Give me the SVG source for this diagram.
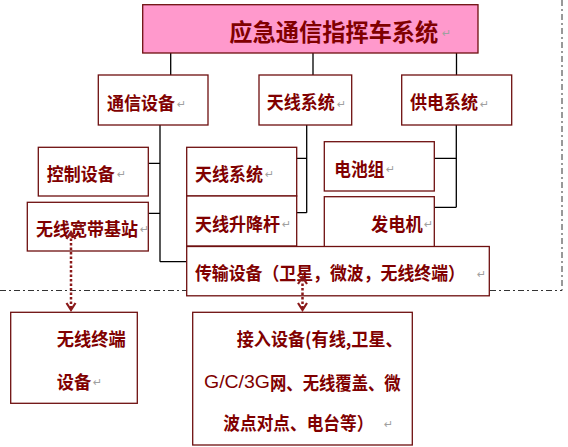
<svg xmlns="http://www.w3.org/2000/svg" width="568" height="447" viewBox="0 0 568 447">
<style>
.box{fill:#fff;stroke:#6e0f0f;stroke-width:1.3}
.t{font-family:"Noto Sans CJK SC","Noto Sans CJK JP",sans-serif;font-weight:bold;font-size:18px;fill:#800000;dominant-baseline:central}
.pm{font-family:"DejaVu Sans",sans-serif;font-size:11px;fill:#a0a0a0;dominant-baseline:central}
.c{stroke:#000;stroke-width:1.3;fill:none}
.dash{stroke:#333;stroke-width:1;stroke-dasharray:6 3 2 3;fill:none}
.dot{stroke:#8b1a1a;stroke-width:2.5;stroke-dasharray:2.5 2;fill:none}
.ah{stroke:#8b1a1a;stroke-width:2.2;fill:none}
</style>
<rect width="568" height="447" fill="#fff"/>
<g id="frame">
<path class="dash" d="M0 290.5 H562 M562 0 V290.5"/>
</g>
<g id="connectors">
<path class="c" d="M170.7 42 V75 M313 42 V75 M456.5 42 V75"/>
<path class="c" d="M160 103 V261.7 M148.3 163.3 H160 M148.3 213.3 H160 M160 261.7 H186.7"/>
<path class="c" d="M306.7 103 V212.7 M296.7 158.3 H306.7 M296.7 212.7 H306.7"/>
<path class="c" d="M456.3 103 V207.3 M434.3 158.3 H456.3 M434.3 207.3 H456.3"/>
</g>
<g id="root">
<rect x="142.7" y="4.7" width="335.3" height="48.3" fill="#ff99cc" stroke="#6e0f0f" stroke-width="1.3"/>
<text class="t" x="229.3" y="30.5" style="font-size:24px" textLength="209" lengthAdjust="spacingAndGlyphs">应急通信指挥车系统</text>
<text class="pm" x="442" y="33">↵</text>
</g>
<g id="comm">
<rect class="box" x="98.3" y="75" width="109.7" height="50"/>
<text class="t" x="107" y="101.5" textLength="68" lengthAdjust="spacingAndGlyphs">通信设备</text>
<text class="pm" x="177" y="104">↵</text>
</g>
<g id="antenna">
<rect class="box" x="259" y="75" width="92.7" height="50"/>
<text class="t" x="266.7" y="101" textLength="68" lengthAdjust="spacingAndGlyphs">天线系统</text>
<text class="pm" x="337" y="104">↵</text>
</g>
<g id="power">
<rect class="box" x="401.7" y="75" width="110" height="50"/>
<text class="t" x="410" y="101" textLength="68" lengthAdjust="spacingAndGlyphs">供电系统</text>
<text class="pm" x="480" y="104">↵</text>
</g>
<g id="control">
<rect class="box" x="38.3" y="147.3" width="110" height="48.7"/>
<text class="t" x="46.7" y="172.5" textLength="68" lengthAdjust="spacingAndGlyphs">控制设备</text>
<text class="pm" x="117" y="174">↵</text>
</g>
<g id="bs">
<rect class="box" x="27.3" y="202.3" width="121" height="48.7"/>
<text class="t" x="36" y="227.5" textLength="102" lengthAdjust="spacingAndGlyphs">无线宽带基站</text>
<text class="pm" x="140" y="229">↵</text>
</g>
<g id="antsys">
<rect class="box" x="186.7" y="147.3" width="110" height="48.7"/>
<text class="t" x="195" y="172.5" textLength="68" lengthAdjust="spacingAndGlyphs">天线系统</text>
<text class="pm" x="265" y="174">↵</text>
</g>
<g id="mast">
<rect class="box" x="186.7" y="196" width="110" height="50"/>
<text class="t" x="195" y="222.5" textLength="85" lengthAdjust="spacingAndGlyphs">天线升降杆</text>
<text class="pm" x="282" y="224">↵</text>
</g>
<g id="battery">
<rect class="box" x="324.3" y="141.7" width="110" height="49.3"/>
<text class="t" x="334.3" y="167.5" textLength="50" lengthAdjust="spacingAndGlyphs">电池组</text>
<text class="pm" x="386" y="169">↵</text>
</g>
<g id="gen">
<rect class="box" x="324.3" y="196.7" width="110" height="50"/>
<text class="t" x="371" y="222.5" textLength="51.7" lengthAdjust="spacingAndGlyphs">发电机</text>
<text class="pm" x="424" y="224">↵</text>
</g>
<g id="trans">
<rect class="box" x="186.7" y="246.5" width="302.6" height="49.3"/>
<text class="t" x="195" y="271.5" textLength="270" lengthAdjust="spacingAndGlyphs">传输设备（卫星，微波，无线终端）</text>
<text class="pm" x="477" y="274">↵</text>
</g>
<g id="terminal">
<rect class="box" x="10.7" y="312.3" width="126.6" height="91"/>
<text class="t" x="56.7" y="338.3" textLength="69" lengthAdjust="spacingAndGlyphs">无线终端</text>
<text class="t" x="56.7" y="380.7" textLength="34.5" lengthAdjust="spacingAndGlyphs">设备</text>
<text class="pm" x="93" y="382.5">↵</text>
</g>
<g id="access">
<rect class="box" x="192.7" y="312.3" width="219.6" height="132.7"/>
<text class="t" x="236.7" y="338.3" textLength="166" lengthAdjust="spacingAndGlyphs">接入设备(有线,卫星、</text>
<text class="t" x="204" y="381.7"><tspan style="font-family:'Liberation Sans',sans-serif;font-weight:normal;font-size:18px" textLength="66" lengthAdjust="spacingAndGlyphs">G/C/3G</tspan><tspan x="270" textLength="130.7" lengthAdjust="spacingAndGlyphs">网、无线覆盖、微</tspan></text>
<text class="t" x="223.3" y="421.7" textLength="150" lengthAdjust="spacingAndGlyphs">波点对点、电台等）</text>
<text class="pm" x="384" y="424">↵</text>
</g>
<g id="links">
<path class="dot" d="M71 234 V308"/>
<path class="ah" d="M66.5 239 L71 232 L75.5 239 M66.5 303 L71 310 L75.5 303"/>
<path class="dot" d="M302.5 279 V308"/>
<path class="ah" d="M298 284 L302.5 277 L307 284 M298 303 L302.5 310 L307 303"/>
</g>
</svg>
